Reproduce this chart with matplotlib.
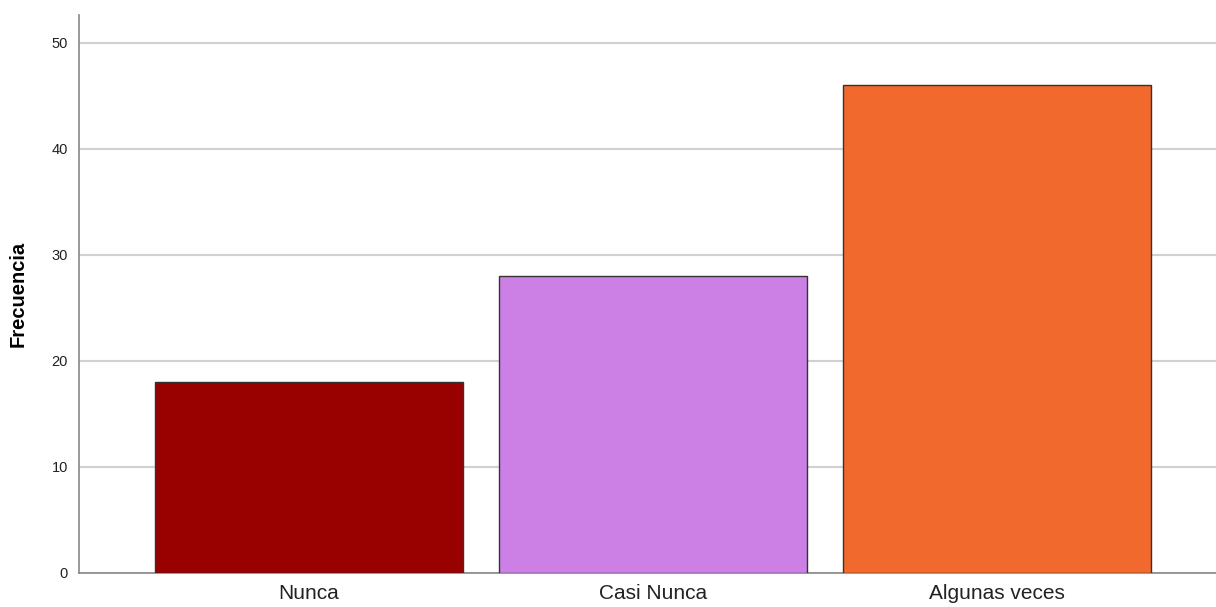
import matplotlib
matplotlib.use("Agg")
import matplotlib.pyplot as plt

categories = ["Nunca", "Casi Nunca", "Algunas veces"]
frecuencias = [18, 28, 46]
colores = ["#990000", "#cc80e6", "#f2692e"]
yticks = [0, 10, 20, 30, 40, 50]

plt.rcParams["font.family"] = ["Liberation Sans", "DejaVu Sans"]

fig = plt.figure(figsize=(12.16, 6.07), dpi=100)
ax = fig.add_axes([79 / 1216, 34 / 607, 1 - 79 / 1216, (573 - 15) / 607])

x = list(range(len(categories)))
ax.bar(x, frecuencias, width=0.895, color=colores, edgecolor="#333333",
       linewidth=1.0, zorder=3)

ax.set_xlim(-0.669, 2.637)
ax.set_ylim(0, 52.64)
ax.set_yticks(yticks)
ax.set_xticks(x)
ax.set_xticklabels(categories, fontsize=15, color="#222222")
ax.tick_params(axis="y", labelsize=10.5, length=0, pad=8, colors="#222222")
ax.tick_params(axis="x", length=0, pad=8)
ax.yaxis.grid(True, color="#d0d0d0", linewidth=1.5, zorder=0)
ax.set_axisbelow(True)

for side in ("top", "right"):
    ax.spines[side].set_visible(False)
for side in ("left", "bottom"):
    ax.spines[side].set_color("#888888")
    ax.spines[side].set_linewidth(1.2)

ax.set_ylabel("Frecuencia", fontsize=14.5, fontweight="bold", labelpad=17)

fig.savefig("out.png", dpi=100)
